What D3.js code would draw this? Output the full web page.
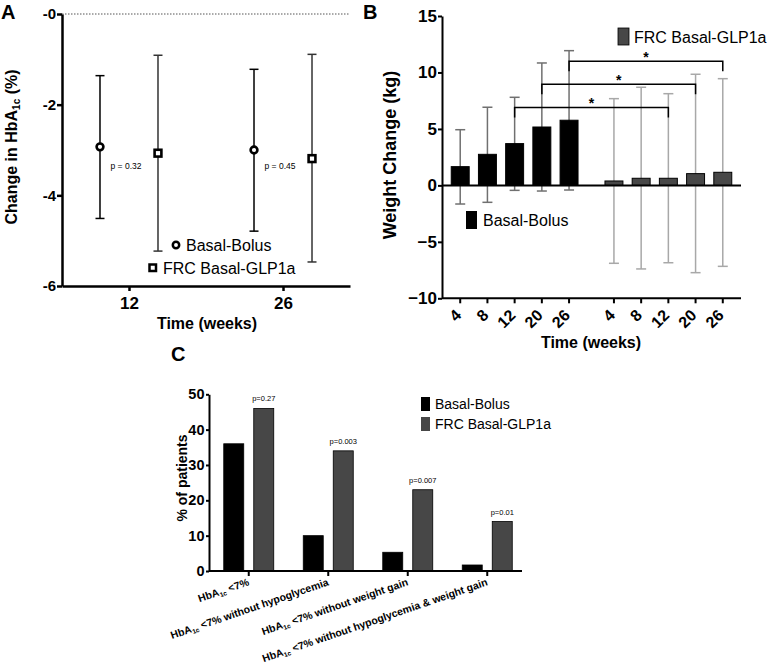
<!DOCTYPE html>
<html><head><meta charset="utf-8">
<script src="https://cdn.jsdelivr.net/npm/d3@7"></script>
<style>
body{margin:0;background:#fff}
text{font-family:"Liberation Sans",Arial,Helvetica,sans-serif}
</style>
</head><body>
<svg id="chart" width="774" height="667"></svg>
<script>
// ---------- Panel A data ----------
const aTimes = ["12", "26"];
const aSeries = ["Basal-Bolus", "FRC Basal-GLP1a"];
const aBBMean = [-2.93, -3.00];
const aBBLow = [-4.51, -4.79];
const aBBHigh = [-1.36, -1.22];
const aFRCMean = [-3.07, -3.19];
const aFRCLow = [-5.23, -5.47];
const aFRCHigh = [-0.91, -0.89];
const aYTicks = [0, -2, -4, -6];
const aYTickLabels = ["-0", "-2", "-4", "-6"];
const aPValues = ["p = 0.32", "p = 0.45"];

// ---------- Panel B data ----------
const bGroups = ["Basal-Bolus", "FRC Basal-GLP1a"];
const bWeeks = ["4", "8", "12", "20", "26"];
const bBBMean = [1.66, 2.75, 3.70, 5.17, 5.77];
const bBBHigh = [4.93, 6.92, 7.80, 10.84, 11.93];
const bBBLow = [-1.65, -1.50, -0.44, -0.50, -0.41];
const bFRCMean = [0.39, 0.63, 0.63, 1.04, 1.16];
const bFRCHigh = [7.68, 8.69, 8.12, 9.84, 9.45];
const bFRCLow = [-6.90, -7.40, -6.85, -7.73, -7.17];
const bYTicks = [15, 10, 5, 0, -5, -10];
const bSigWeeks = ["12", "20", "26"];
const bSigLevels = [6.9, 8.95, 11.0];

// ---------- Panel C data ----------
const cCategories = ["HbA1c <7%", "HbA1c <7% without hypoglycemia", "HbA1c <7% without weight gain", "HbA1c <7% without hypoglycemia & weight gain"];
const cSeries = ["Basal-Bolus", "FRC Basal-GLP1a"];
const cBB = [36, 10, 5.3, 1.7];
const cFRC = [46, 34, 23, 14];
const cPValues = ["p=0.27", "p=0.003", "p=0.007", "p=0.01"];
const cYTicks = [0, 10, 20, 30, 40, 50];

const FRC_COLOR = "#474747";
const svg = d3.select("#chart");

function styleAxis(g, w) {
  g.selectAll(".domain").attr("stroke", "#000").attr("stroke-width", w);
  g.selectAll(".tick line").attr("stroke", "#000").attr("stroke-width", w);
  g.selectAll(".tick text").attr("fill", "#000").attr("font-weight", "bold");
}

// ================= PANEL A =================
(function () {
  const yA = d3.scaleLinear().domain([-6, 0]).range([286, 14]);
  const xA = d3.scalePoint().domain(aTimes).range([62, 350]).padding(0.435);
  const xAS = d3.scalePoint().domain(aSeries).range([-29, 29]);
  const g = svg.append("g");

  g.append("line").attr("x1", 62).attr("x2", 350).attr("y1", yA(0)).attr("y2", yA(0))
    .attr("stroke", "#555").attr("stroke-width", 1).attr("stroke-dasharray", "1.5,1.5");

  const ya = g.append("g").attr("transform", "translate(62,0)")
    .call(d3.axisLeft(yA).tickValues(aYTicks).tickFormat((d, i) => aYTickLabels[i]).tickSize(5).tickPadding(1).tickSizeOuter(0));
  styleAxis(ya, 2.5);
  ya.selectAll(".tick text").attr("font-size", 15);

  const xa = g.append("g").attr("transform", `translate(0,${yA(-6)})`)
    .call(d3.axisBottom(xA).tickSize(5).tickPadding(6).tickSizeOuter(0));
  styleAxis(xa, 2.5);
  xa.selectAll(".tick text").attr("font-size", 17);

  const seriesData = [
    { s: aSeries[0], mean: aBBMean, low: aBBLow, high: aBBHigh, color: "#000", shape: "circle" },
    { s: aSeries[1], mean: aFRCMean, low: aFRCLow, high: aFRCHigh, color: "#333", shape: "square" }
  ];
  seriesData.forEach(sd => {
    aTimes.forEach((t, i) => {
      const cx = xA(t) + xAS(sd.s);
      g.append("line").attr("x1", cx).attr("x2", cx).attr("y1", yA(sd.low[i])).attr("y2", yA(sd.high[i]))
        .attr("stroke", sd.color).attr("stroke-width", 1.5);
      [sd.low[i], sd.high[i]].forEach(v => {
        g.append("line").attr("x1", cx - 4.5).attr("x2", cx + 4.5).attr("y1", yA(v)).attr("y2", yA(v))
          .attr("stroke", sd.color).attr("stroke-width", 1.5);
      });
      if (sd.shape === "circle") {
        g.append("circle").attr("cx", cx).attr("cy", yA(sd.mean[i])).attr("r", 3.4)
          .attr("fill", "#fff").attr("stroke", "#000").attr("stroke-width", 2.6);
      } else {
        g.append("rect").attr("x", cx - 3.4).attr("y", yA(sd.mean[i]) - 3.4).attr("width", 6.8).attr("height", 6.8)
          .attr("fill", "#fff").attr("stroke", "#000").attr("stroke-width", 2.6);
      }
    });
  });

  aTimes.forEach((t, i) => {
    g.append("text").attr("x", xA(t) - 3).attr("y", yA(aBBMean[i]) + 22 - i * 3)
      .attr("text-anchor", "middle").attr("font-size", 8.5).text(aPValues[i]);
  });

  g.append("circle").attr("cx", 176).attr("cy", 245).attr("r", 3.2).attr("fill", "#fff").attr("stroke", "#000").attr("stroke-width", 2.5);
  g.append("text").attr("x", 186).attr("y", 251).attr("font-size", 16).text(aSeries[0]);
  g.append("rect").attr("x", 149.5).attr("y", 264.5).attr("width", 6.5).attr("height", 6.5).attr("fill", "#fff").attr("stroke", "#000").attr("stroke-width", 2.5);
  g.append("text").attr("x", 163).attr("y", 274).attr("font-size", 16).text(aSeries[1]);

  const yt = g.append("text").attr("transform", "translate(17,147) rotate(-90)").attr("text-anchor", "middle")
    .attr("font-size", 16).attr("font-weight", "bold");
  yt.append("tspan").text("Change in HbA");
  yt.append("tspan").attr("font-size", 10).attr("dy", 3).text("1c");
  yt.append("tspan").attr("dy", -3).text(" (%)");
  g.append("text").attr("x", 207).attr("y", 329).attr("text-anchor", "middle").attr("font-size", 16)
    .attr("font-weight", "bold").text("Time (weeks)");
  g.append("text").attr("x", 1).attr("y", 18.5).attr("font-size", 20).attr("font-weight", "bold").text("A");
})();

// ================= PANEL B =================
(function () {
  const yB = d3.scaleLinear().domain([-10, 15]).range([298.3, 16]);
  const xBG = d3.scaleBand().domain(bGroups).range([442, 741]).paddingInner(0.115).paddingOuter(0.03);
  const xBW = d3.scaleBand().domain(bWeeks).range([0, xBG.bandwidth()]).paddingInner(0.34).paddingOuter(0.17);
  const g = svg.append("g");
  const cxOf = (grp, w) => xBG(grp) + xBW(w) + xBW.bandwidth() / 2;

  const series = [
    { grp: bGroups[0], mean: bBBMean, low: bBBLow, high: bBBHigh, fill: "#000", err: "#707070" },
    { grp: bGroups[1], mean: bFRCMean, low: bFRCLow, high: bFRCHigh, fill: FRC_COLOR, err: "#a8a8a8" }
  ];

  series.forEach(sd => {
    bWeeks.forEach((w, i) => {
      const cx = cxOf(sd.grp, w);
      g.append("line").attr("x1", cx).attr("x2", cx).attr("y1", yB(sd.low[i])).attr("y2", yB(sd.high[i]))
        .attr("stroke", sd.err).attr("stroke-width", 1.5);
      [sd.low[i], sd.high[i]].forEach(v => {
        g.append("line").attr("x1", cx - 5).attr("x2", cx + 5).attr("y1", yB(v)).attr("y2", yB(v))
          .attr("stroke", sd.err).attr("stroke-width", 1.5);
      });
    });
  });

  series.forEach(sd => {
    g.selectAll(null).data(bWeeks).enter().append("rect")
      .attr("x", w => xBG(sd.grp) + xBW(w))
      .attr("width", xBW.bandwidth())
      .attr("y", (w, i) => yB(Math.max(0, sd.mean[i])))
      .attr("height", (w, i) => Math.abs(yB(sd.mean[i]) - yB(0)))
      .attr("fill", sd.fill).attr("stroke", "#000").attr("stroke-width", 1);
  });

  g.append("line").attr("x1", 442).attr("x2", 741).attr("y1", yB(0)).attr("y2", yB(0))
    .attr("stroke", "#000").attr("stroke-width", 2);

  const ya = g.append("g").attr("transform", "translate(442,0)")
    .call(d3.axisLeft(yB).tickValues(bYTicks).tickSize(4).tickPadding(1).tickSizeOuter(0));
  styleAxis(ya, 2);
  ya.selectAll(".tick text").attr("font-size", 17);

  g.append("line").attr("x1", 442).attr("x2", 741).attr("y1", yB(-10)).attr("y2", yB(-10))
    .attr("stroke", "#000").attr("stroke-width", 2);
  bGroups.forEach(grp => {
    bWeeks.forEach(w => {
      const cx = cxOf(grp, w);
      g.append("line").attr("x1", cx).attr("x2", cx).attr("y1", yB(-10)).attr("y2", yB(-10) + 5)
        .attr("stroke", "#000").attr("stroke-width", 2);
      g.append("text").attr("transform", `translate(${cx + 2},${yB(-10) + 18}) rotate(-45)`)
        .attr("text-anchor", "end").attr("font-size", 16).attr("font-weight", "bold").text(w);
    });
  });

  bSigWeeks.forEach((w, i) => {
    const x1 = cxOf(bGroups[0], w), x2 = cxOf(bGroups[1], w), yy = yB(bSigLevels[i]);
    g.append("path").attr("d", `M${x1},${yy + 10}V${yy}H${x2}V${yy + 10}`)
      .attr("fill", "none").attr("stroke", "#000").attr("stroke-width", 1.5);
    g.append("text").attr("x", (x1 + x2) / 2).attr("y", yy + 1).attr("text-anchor", "middle")
      .attr("font-size", 14).attr("font-weight", "bold").text("*");
  });

  g.append("rect").attr("x", 618).attr("y", 28).attr("width", 11).attr("height", 17).attr("fill", FRC_COLOR).attr("stroke", "#000").attr("stroke-width", 0.8);
  g.append("text").attr("x", 634).attr("y", 43).attr("font-size", 16).text(bGroups[1]);
  g.append("rect").attr("x", 466).attr("y", 211).attr("width", 11).attr("height", 18).attr("fill", "#000");
  g.append("text").attr("x", 483).attr("y", 226).attr("font-size", 16).text(bGroups[0]);

  g.append("text").attr("transform", "translate(396,155) rotate(-90)").attr("text-anchor", "middle")
    .attr("font-size", 18).attr("font-weight", "bold").text("Weight Change (kg)");
  g.append("text").attr("x", 591).attr("y", 348).attr("text-anchor", "middle").attr("font-size", 16)
    .attr("font-weight", "bold").text("Time (weeks)");
  g.append("text").attr("x", 363).attr("y", 18.5).attr("font-size", 20).attr("font-weight", "bold").text("B");
})();

// ================= PANEL C =================
(function () {
  const yC = d3.scaleLinear().domain([0, 50]).range([571, 394.3]);
  const xC = d3.scaleBand().domain(cCategories).range([209, 527]);
  const xCS = d3.scaleBand().domain(cSeries).range([-30, 30]).paddingInner(1 / 3).paddingOuter(1 / 6);
  const g = svg.append("g");
  const center = c => xC(c) + xC.bandwidth() / 2;

  const series = [
    { s: cSeries[0], vals: cBB, fill: "#000" },
    { s: cSeries[1], vals: cFRC, fill: FRC_COLOR }
  ];
  series.forEach(sd => {
    g.selectAll(null).data(cCategories).enter().append("rect")
      .attr("x", c => center(c) + xCS(sd.s))
      .attr("width", xCS.bandwidth())
      .attr("y", (c, i) => yC(sd.vals[i]))
      .attr("height", (c, i) => yC(0) - yC(sd.vals[i]))
      .attr("fill", sd.fill).attr("stroke", "#000").attr("stroke-width", 0.8);
  });

  cCategories.forEach((c, i) => {
    g.append("text").attr("x", center(c) + xCS(cSeries[1]) + xCS.bandwidth() / 2).attr("y", yC(cFRC[i]) - 7)
      .attr("text-anchor", "middle").attr("font-size", 7.5).text(cPValues[i]);
  });

  const ya = g.append("g").attr("transform", "translate(209,0)")
    .call(d3.axisLeft(yC).tickValues(cYTicks).tickSize(3).tickPadding(1.5).tickSizeOuter(0));
  styleAxis(ya, 2);
  ya.selectAll(".tick text").attr("font-size", 14.5);

  g.append("line").attr("x1", 209).attr("x2", 522).attr("y1", yC(0)).attr("y2", yC(0))
    .attr("stroke", "#000").attr("stroke-width", 2);
  cCategories.forEach(c => {
    const cx = center(c);
    g.append("line").attr("x1", cx).attr("x2", cx).attr("y1", yC(0)).attr("y2", yC(0) + 5)
      .attr("stroke", "#000").attr("stroke-width", 2);
    const parts = c.split("1c");
    const t = g.append("text").attr("transform", `translate(${cx + 1},${yC(0) + 14}) rotate(-19)`)
      .attr("text-anchor", "end").attr("font-size", 10.5).attr("font-weight", "bold");
    t.append("tspan").text(parts[0]);
    t.append("tspan").attr("font-size", 6.5).attr("dy", 2).text("1c");
    t.append("tspan").attr("dy", -2).text(parts[1]);
  });

  g.append("rect").attr("x", 421).attr("y", 397).attr("width", 9).attr("height", 14).attr("fill", "#000");
  g.append("text").attr("x", 435).attr("y", 409).attr("font-size", 14).text(cSeries[0]);
  g.append("rect").attr("x", 421).attr("y", 417).attr("width", 9).attr("height", 14).attr("fill", FRC_COLOR);
  g.append("text").attr("x", 435).attr("y", 429).attr("font-size", 14).text(cSeries[1]);

  g.append("text").attr("transform", "translate(187,478) rotate(-90)").attr("text-anchor", "middle")
    .attr("font-size", 14).attr("font-weight", "bold").text("% of patients");
  g.append("text").attr("x", 171).attr("y", 361).attr("font-size", 20).attr("font-weight", "bold").text("C");
})();
</script>
</body></html>
